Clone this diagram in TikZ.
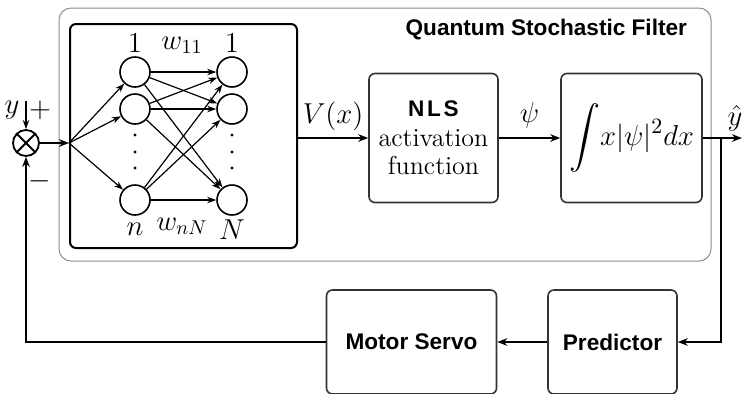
\documentclass[tikz,border=0pt]{standalone}
\usepackage{amsmath,amssymb}
\usepackage{fontspec}
\newfontfamily\blocksans{Liberation Sans}
\newfontfamily\nlssans[LetterSpace=12]{Liberation Sans}
\usetikzlibrary{arrows.meta}

\begin{document}
\begin{tikzpicture}[x=0.5pt, y=-0.5pt,
        every node/.style={font=\fontsize{14.5}{15}\selectfont},
        sanslabel/.style={font=\blocksans\bfseries\fontsize{11.3}{13}\selectfont},
        block/.style={draw=black!80, line width=0.8pt, rounded corners=3pt, inner sep=0pt},
        neuron/.style={draw, circle, line width=0.8pt, minimum size=15pt, inner sep=0pt},
        link/.style={-{Stealth[length=4.5pt,width=3.2pt]}, line width=0.6pt},
        wire/.style={-{Stealth[length=5pt,width=3.8pt]}, line width=1.1pt}]
        \useasboundingbox (0,0) rectangle (742,393);
        % filter frame and network
        \node[draw=black!45, line width=0.5pt, rounded corners=6pt, minimum width=326pt, minimum height=126.5pt] (filter) at (385,134.5) {};
        \node[sanslabel, anchor=east] (title) at (694,30) {Quantum Stochastic Filter};
        \node[block, draw=black, line width=1pt, minimum width=113.5pt, minimum height=112pt] (nnbox) at (183.5,136) {};
        \node[neuron] (L1) at (135,72) {};
        \node[neuron] (L2) at (135,109) {};
        \node[neuron] (Ln) at (135,200) {};
        \node[neuron] (R1) at (232,72) {};
        \node[neuron] (R2) at (232,109) {};
        \node[neuron] (RN) at (232,200) {};
        \foreach \y in {135,152,168} {
            \fill (135,\y) circle (0.8pt);
            \fill (232,\y) circle (0.8pt);
        }
        \node (lab1) at (135,43) {$1$};
        \node (labw11) at (182,45) {$w_{11}$};
        \node (labR1) at (232,43) {$1$};
        \node (labn) at (135,229) {$n$};
        \node (labwnN) at (182,226) {$w_{nN}$};
        \node (labN) at (232,230) {$N$};
        \coordinate (in) at (nnbox.west |- 0,143);
        \foreach \a in {L1,L2,Ln} {
            \draw[link] (in) -- (\a);
            \foreach \b in {R1,R2,RN}
                \draw[link] (\a) -- (\b);
        }
        % summing junction
        \node[draw, circle, line width=0.9pt, minimum size=13pt, inner sep=0pt] (sum) at (26,143) {};
        \draw[line width=0.9pt] (sum.north west) -- (sum.south east) (sum.north east) -- (sum.south west);
        \coordinate (ytop) at (26,101);
        \node (laby) at (12,110) {$y$};
        \node (plus) at (40,110) {$+$};
        \node (minus) at (40,181) {$-$};
        \draw[-{Stealth[length=4.5pt,width=3.2pt]}, line width=0.8pt] (ytop) -- (sum.north);
        \draw[wire] (sum.east) -- (in);
        % blocks
        \node[block, font=\fontsize{13}{14}\selectfont, minimum width=64.5pt, minimum height=64.5pt, align=center] (nls) at (433.5,138)
            {{\nlssans\bfseries\fontsize{11.3}{13}\selectfont NLS}\\[1pt]activation\\function};
        \node[block, minimum width=70.5pt, minimum height=64.5pt] (integ) at (631.5,138)
            {\fontsize{15.5}{17}\selectfont$\displaystyle\int\! x|\psi|^2dx$};
        \node[block, sanslabel, minimum width=85pt, minimum height=52pt] (motor) at (411.5,342) {Motor Servo};
        \node[block, sanslabel, minimum width=64.5pt, minimum height=52pt] (pred) at (612.5,342) {Predictor};
        % connections
        \draw[wire] (nnbox.east |- nls.west) -- (nls.west) node[midway, above=0pt] (labV) {$V(x)$};
        \draw[wire] (nls.east) -- (integ.west) node[midway, above=1pt] (labpsi) {$\psi$};
        \coordinate (yout) at (742,138);
        \coordinate (branch) at (721,138);
        \draw[wire] (integ.east) -- (yout);
        \node (labyhat) at (735,118) {$\hat{y}$};
        \draw[wire] (branch) |- (pred.east);
        \draw[wire] (pred.west) -- (motor.east);
        \draw[wire] (motor.west) -| (sum.south);
\end{tikzpicture}
\end{document}
